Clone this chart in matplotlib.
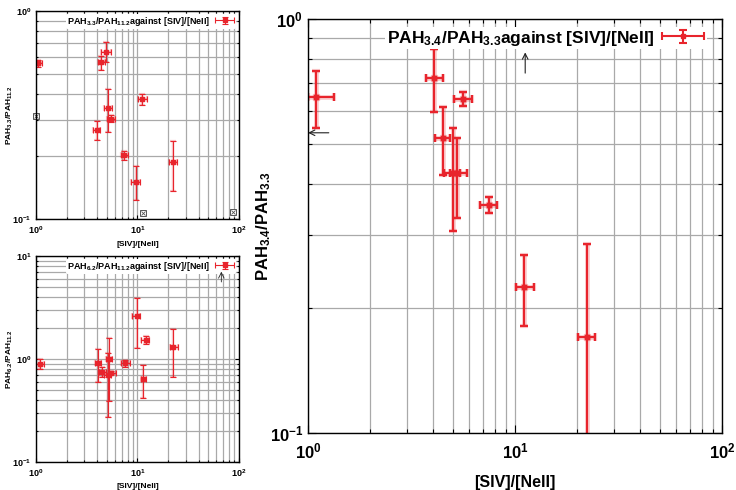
import numpy as np
import matplotlib
matplotlib.use('Agg')
import matplotlib.pyplot as plt
from matplotlib.ticker import FixedLocator, FixedFormatter, LogLocator, NullFormatter
from matplotlib.legend_handler import HandlerErrorbar
from matplotlib.container import ErrorbarContainer

plt.rcParams['font.family'] = ['Liberation Sans', 'DejaVu Sans']
plt.rcParams['font.weight'] = 'bold'
plt.rcParams['mathtext.fontset'] = 'custom'
plt.rcParams['mathtext.rm'] = 'Liberation Sans:bold'
plt.rcParams['mathtext.bf'] = 'Liberation Sans:bold'
plt.rcParams['mathtext.default'] = 'bf'

###############################################################################
## Data
###############################################################################
# PAH3.4/PAH3.3 (big panel)
x34    = [1.09, 4.06, 5.63, 4.50, 5.04, 5.27, 7.46, 11.1, 22.2]
x34_lo = [1.00, 3.70, 5.07, 4.11, 4.55, 4.85, 6.78, 10.1, 20.2]
x34_hi = [1.34, 4.50, 6.18, 4.85, 5.45, 5.84, 8.22, 12.3, 24.4]
y34    = [0.647, 0.722, 0.642, 0.517, 0.424, 0.424, 0.355, 0.225, 0.171]
y34_lo = [0.546, 0.595, 0.616, 0.420, 0.308, 0.331, 0.339, 0.181, 0.090]
y34_hi = [0.749, 0.848, 0.668, 0.612, 0.545, 0.515, 0.371, 0.269, 0.286]
lim34_x   = [11.2, 1.26, 80.0]
lim34_y   = [0.74, 0.531, 0.111]
lim34_dir = ['up', 'left', 'right']

# PAH3.3/PAH11.2 (top left)
x33    = [1.05, 4.41, 4.90, 5.09, 5.49, 3.97, 11.15, 7.43, 9.59, 22.5]
x33_lo = [0.98, 4.06, 4.41, 4.72, 5.05, 3.66, 10.1, 6.83, 8.70, 20.4]
x33_hi = [1.15, 4.83, 5.49, 5.66, 6.06, 4.25, 12.3, 8.07, 10.6, 24.6]
y33    = [0.560, 0.566, 0.637, 0.342, 0.304, 0.269, 0.378, 0.203, 0.151, 0.187]
y33_lo = [0.540, 0.518, 0.570, 0.262, 0.294, 0.240, 0.355, 0.193, 0.123, 0.137]
y33_hi = [0.580, 0.610, 0.709, 0.420, 0.315, 0.296, 0.401, 0.213, 0.179, 0.236]
box33_x = [1.0, 11.4, 87.0]
box33_y = [0.313, 0.107, 0.108]

# PAH6.2/PAH11.2 (bottom left)
x62    = [1.086, 4.06, 4.49, 5.22, 5.07, 5.54, 7.50, 9.81, 12.0, 11.36, 22.6]
x62_lo = [1.00, 3.83, 4.22, 4.85, 4.70, 5.10, 6.95, 8.90, 10.9, 10.8, 20.8]
x62_hi = [1.19, 4.35, 4.87, 5.60, 5.45, 6.10, 8.45, 10.7, 12.85, 12.0, 25.2]
y62    = [0.891, 0.918, 0.753, 0.993, 0.700, 0.736, 0.908, 2.63, 1.53, 0.640, 1.31]
y62_lo = [0.797, 0.598, 0.675, 0.390, 0.272, 0.710, 0.840, 1.29, 1.40, 0.420, 0.667]
y62_hi = [1.010, 1.240, 0.840, 1.590, 1.135, 0.760, 0.980, 3.88, 1.68, 0.875, 1.94]
lim62_x   = [67.0, 1.26, 82.0]
lim62_y   = [5.6, 0.66, 0.124]
lim62_dir = ['up', 'left', 'right']

xticks = [1, 10, 100]
xticklabels = ['10$^{0}$', '10$^{1}$', '10$^{2}$']
yticks_1 = [0.1, 1]
yticklabels_1 = ['10$^{-1}$', '10$^{0}$']
yticks_2 = [0.1, 1, 10]
yticklabels_2 = ['10$^{-1}$', '10$^{0}$', '10$^{1}$']

xlabel = '[SIV]/[NeII]'
RED = '#e8242c'
GRID = '#a9a9a9'


def setup_axes(ax, ylim, yticks, yticklabels, fs, tl):
    ax.set_xscale('log')
    ax.set_yscale('log')
    ax.set_xlim(1, 100)
    ax.set_ylim(*ylim)
    ax.xaxis.set_major_locator(FixedLocator(xticks))
    ax.xaxis.set_major_formatter(FixedFormatter(xticklabels))
    ax.yaxis.set_major_locator(FixedLocator(yticks))
    ax.yaxis.set_major_formatter(FixedFormatter(yticklabels))
    ax.xaxis.set_minor_locator(LogLocator(base=10, subs=np.arange(2, 10)))
    ax.yaxis.set_minor_locator(LogLocator(base=10, subs=np.arange(2, 10)))
    ax.xaxis.set_minor_formatter(NullFormatter())
    ax.yaxis.set_minor_formatter(NullFormatter())
    ax.grid(True, which='both', color=GRID, lw=0.9)
    ax.set_axisbelow(True)
    ax.tick_params(which='both', direction='in', top=True, right=True,
                   labelsize=fs, width=0.8)
    ax.tick_params(which='major', length=tl)
    ax.tick_params(which='minor', length=tl * 0.5)
    for s in ax.spines.values():
        s.set_linewidth(1.0)


def draw_points(ax, x, xlo, xhi, y, ylo, yhi, label, lw, cap, ms):
    x = np.array(x); y = np.array(y)
    xerr = [x - np.array(xlo), np.array(xhi) - x]
    yerr = [y - np.array(ylo), np.array(yhi) - y]
    # soft halo, like the original rendering
    ax.errorbar(x, y, xerr=xerr, yerr=yerr, fmt='s', color=RED, alpha=0.25,
                lw=lw * 2.2, capsize=cap, capthick=lw * 2, ms=ms * 1.4, mec=RED)
    return ax.errorbar(x, y, xerr=xerr, yerr=yerr, fmt='s', color=RED, mec=RED,
                       lw=lw, capsize=cap, capthick=lw, ms=ms, label=label)


def draw_limits(ax, lx, ly, ldir, lw, frac):
    for x, y, d in zip(lx, ly, ldir):
        if d == 'up':
            tail, head = (x, y), (x, y * 10 ** frac)
        elif d == 'left':
            tail, head = (x, y), (x / 10 ** (frac * 2), y)
        else:
            tail, head = (x, y), (x * 10 ** (frac * 2), y)
        ax.annotate('', xy=head, xytext=tail, zorder=8,
                    arrowprops=dict(arrowstyle='->', color='#222222', lw=lw,
                                    shrinkA=0, shrinkB=0))


def add_legend(ax, fs, pad, xs, hl, anchor=(1, 1)):
    leg = ax.legend(loc='upper right', bbox_to_anchor=anchor, markerfirst=False,
                    fontsize=fs, frameon=True, borderaxespad=pad, handlelength=hl,
                    borderpad=0.1, handletextpad=0.4,
                    handler_map={ErrorbarContainer: HandlerErrorbar(xerr_size=xs, yerr_size=0.35)})
    leg.get_frame().set_edgecolor('none')
    leg.get_frame().set_facecolor('white')
    leg.get_frame().set_alpha(1)
    return leg


fig = plt.figure(figsize=(7.36, 4.90), dpi=100)

# big panel
ax1 = fig.add_axes([0.4185, 0.1163, 0.5625, 0.845])
setup_axes(ax1, (0.1, 1), yticks_1, yticklabels_1, 12, 6)
ax1.tick_params(axis='x', which='major', pad=6)
draw_points(ax1, x34, x34_lo, x34_hi, y34, y34_lo, y34_hi,
            r'PAH$_{3.4}$/PAH$_{3.3}$against [SIV]/[NeII]', 1.5, 3, 3.5)
draw_limits(ax1, lim34_x, lim34_y, lim34_dir, 0.8, 0.05)
ax1.set_xlabel(xlabel, fontsize=11.5, fontweight='bold', labelpad=10)
ax1.set_ylabel(r'PAH$_{3.4}$/PAH$_{3.3}$', fontsize=12, fontweight='bold')
ax1.yaxis.set_label_coords(-0.085, 0.5)
add_legend(ax1, 12.5, 0.45, 1.2, 2.5, anchor=(0.982, 1.0))

# top left panel
ax2 = fig.add_axes([0.0489, 0.553, 0.2758, 0.4245])
setup_axes(ax2, (0.1, 1), yticks_1, yticklabels_1, 6.5, 3)
draw_points(ax2, x33, x33_lo, x33_hi, y33, y33_lo, y33_hi,
            r'PAH$_{3.3}$/PAH$_{11.2}$against [SIV]/[NeII]', 0.8, 2.2, 2.2)
ax2.plot(box33_x, box33_y, 's', ms=5, mfc='white', mec='#555555', mew=0.7, clip_on=False)
ax2.plot(box33_x, box33_y, 'x', ms=3.5, color='#555555', mew=0.6, clip_on=False)
ax2.set_xlabel(xlabel, fontsize=6, fontweight='bold', labelpad=4)
ax2.set_ylabel(r'PAH$_{3.3}$/PAH$_{11.2}$', fontsize=6, fontweight='bold')
ax2.yaxis.set_label_coords(-0.105, 0.5)
add_legend(ax2, 6.5, 0.3, 1.1, 2.4)

# bottom left panel
ax3 = fig.add_axes([0.0489, 0.0571, 0.2758, 0.4204])
setup_axes(ax3, (0.1, 10), yticks_2, yticklabels_2, 6.5, 3)
draw_points(ax3, x62, x62_lo, x62_hi, y62, y62_lo, y62_hi,
            r'PAH$_{6.2}$/PAH$_{11.2}$against [SIV]/[NeII]', 0.8, 2.2, 2.2)
draw_limits(ax3, lim62_x, lim62_y, lim62_dir, 0.6, 0.1)
ax3.set_xlabel(xlabel, fontsize=6, fontweight='bold', labelpad=3)
ax3.set_ylabel(r'PAH$_{6.2}$/PAH$_{11.2}$', fontsize=6, fontweight='bold')
ax3.yaxis.set_label_coords(-0.105, 0.5)
add_legend(ax3, 6.5, 0.3, 1.1, 2.4)

fig.savefig('out.png', dpi=100)
